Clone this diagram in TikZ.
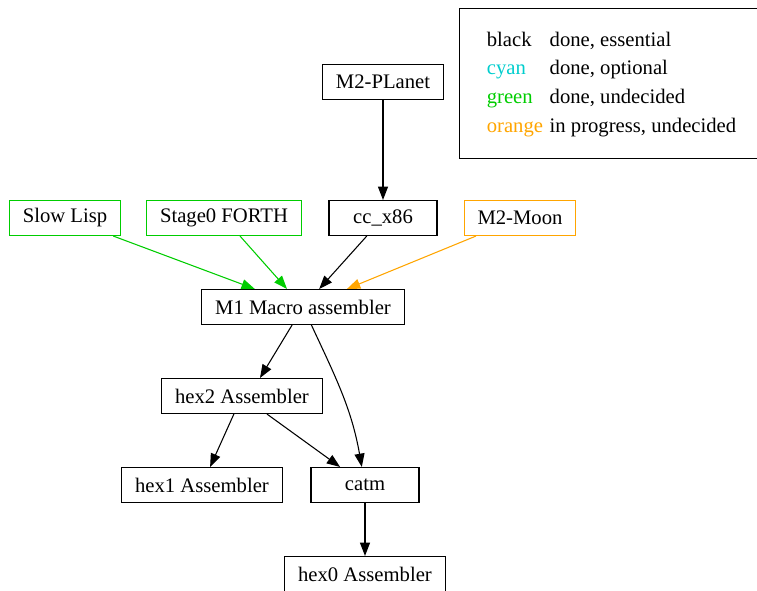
\documentclass[tikz,border=0pt]{standalone}
\usepackage{fontspec}
\setmainfont{Liberation Serif}
\usetikzlibrary{arrows.meta}
\definecolor{vert}{RGB}{0,205,0}
\definecolor{orangegv}{RGB}{255,165,0}
\definecolor{cyangv}{RGB}{0,205,205}
\begin{document}
\begin{tikzpicture}[x=0.75pt, y=-0.75pt, node distance=66.75pt, font=\fontsize{15.5}{18.6}\selectfont]
                \tikzset{ block/.style={rectangle,draw,line width=0.8pt,minimum width=81pt,minimum height=26.25pt,inner xsep=10pt,align=center},
                        arrow/.style={-{Triangle[length=10pt,width=7.5pt]}, line width=0.8pt}}
                \useasboundingbox (0,0) rectangle (757,591);
                \node[block] (mone) at (303,307) {M1 Macro assembler};
                \node[block, above of = mone, xshift=-178.5pt, draw=vert] (lisp) {Slow Lisp};
                \node[block, above of = mone, xshift=-59.25pt, draw=vert] (forth) {Stage0 FORTH};
                \node[block, above of = mone, xshift=60pt] (cc) {cc\_x86};
                \node[block, above of = mone, xshift=162.75pt, draw=orangegv] (moon) {M2-Moon};
                \node[block, above of = cc, yshift=35.25pt] (planet) {M2-PLanet};
                \node[block, below of = mone, xshift=-45.75pt] (hextwo) {hex2 Assembler};
                \node[block, below of = hextwo, xshift=-30pt] (hexone) {hex1 Assembler};
                \node[block, below of = hextwo, xshift=92.25pt] (catm) {catm};
                \node[block, below of = catm] (hexzero) {hex0 Assembler};

                % Légende
                \node[draw, line width=0.8pt, anchor=north west, minimum width=228pt, minimum height=112.5pt] (legend) at (459,8)
                    {\renewcommand{\arraystretch}{1.16}\begin{tabular}{@{}l@{\hspace{5pt}}l@{}}
                     black & done, essential\\
                     \textcolor{cyangv}{cyan} & done, optional\\
                     \textcolor{vert}{green} & done, undecided\\
                     \textcolor{orangegv}{orange} & in progress, undecided
                     \end{tabular}};

                % Flèches
                \draw[arrow] (planet) -- (cc);
                \draw[arrow, vert] (lisp) -- (mone);
                \draw[arrow, vert] (forth) -- (mone);
                \draw[arrow] (cc) -- (mone);
                \draw[arrow, orangegv] (moon) -- (mone);
                \draw[arrow] (mone) -- ([xshift=13.5pt]hextwo.north);
                \draw[arrow] (mone) to[out=-65, in=100] (catm);
                \draw[arrow] (hextwo) -- (hexone);
                \draw[arrow] (hextwo) -- (catm);
                \draw[arrow] (catm) -- (hexzero);

            \end{tikzpicture}
\end{document}
